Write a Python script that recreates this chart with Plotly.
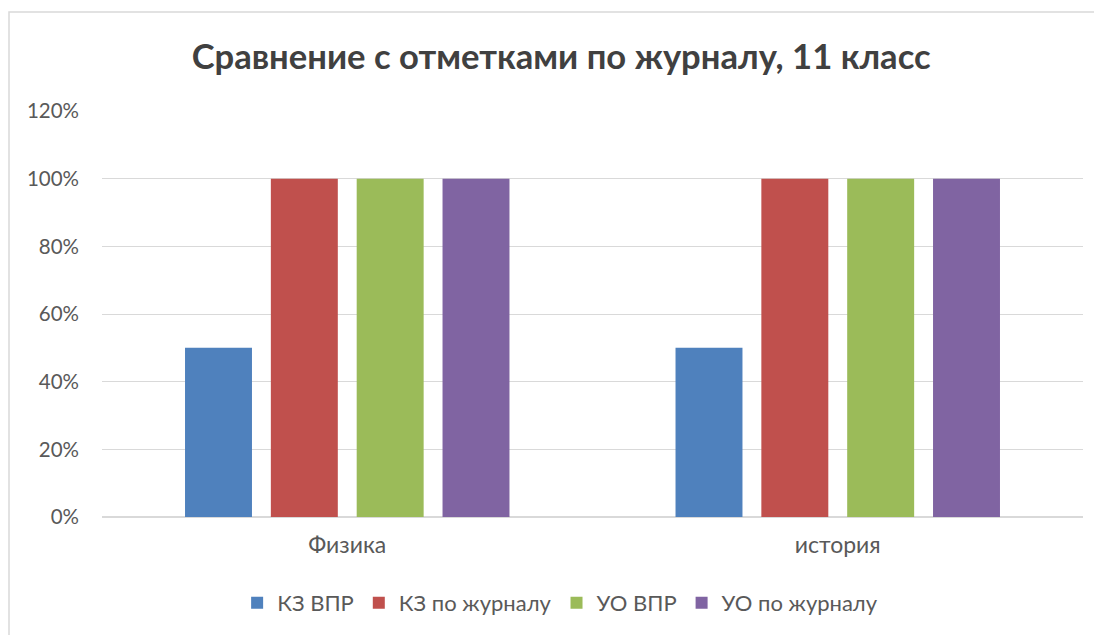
import plotly.graph_objects as go

categories = ["Физика", "история"]
series_names = ["КЗ ВПР", "КЗ по журналу", "УО ВПР", "УО по журналу"]
kz_vpr = [0.5, 0.5]
kz_journal = [1.0, 1.0]
uo_vpr = [1.0, 1.0]
uo_journal = [1.0, 1.0]
colors = ["#4F81BD", "#C0504D", "#9BBB59", "#8064A2"]
tick_vals = [0, 0.2, 0.4, 0.6, 0.8, 1.0, 1.2]
tick_text = ["0%", "20%", "40%", "60%", "80%", "100%", "120%"]

fig = go.Figure()
for name, vals, c in zip(series_names, [kz_vpr, kz_journal, uo_vpr, uo_journal], colors):
    fig.add_trace(go.Bar(x=categories, y=vals, name=name, marker_color=c, marker_line_width=0))

FONT = "Lato, Open Sans, sans-serif"
fig.update_layout(
    width=1102, height=635,
    margin=dict(l=94, r=27, t=103, b=126),
    paper_bgcolor="white", plot_bgcolor="white",
    barmode="group", bargap=0.30, bargroupgap=0.22,
    title=dict(text="<b>Сравнение с отметками по журналу, 11 класс</b>",
               x=0.502, xanchor="center", xref="container", y=0.923, yanchor="middle", yref="container",
               font=dict(family=FONT, size=34.6, color="#404040")),
    font=dict(family=FONT, color="#595959", size=20),
    legend=dict(orientation="h", x=0.467, xanchor="center", y=-0.212, yanchor="middle",
                font=dict(size=22, color="#595959"), traceorder="normal",
                itemwidth=30),
    xaxis=dict(showline=False, ticks="", ticklabelstandoff=12,
               tickfont=dict(size=23, color="#595959")),
    yaxis=dict(range=[0, 1.2], tickvals=tick_vals, ticktext=tick_text,
               showgrid=True, gridcolor="#D9D9D9", gridwidth=1.3,
               zeroline=True, zerolinecolor="#D9D9D9", zerolinewidth=2,
               ticks="", ticklabelstandoff=22, tickfont=dict(size=20.5, color="#595959")),
    shapes=[dict(type="rect", xref="paper", yref="paper", x0=-0.0948, x1=1.06, y0=-0.4, y1=1.2438,
                 line=dict(color="#D9D9D9", width=1.5), fillcolor="rgba(0,0,0,0)", layer="below")],
)
fig.write_html("out.html")
